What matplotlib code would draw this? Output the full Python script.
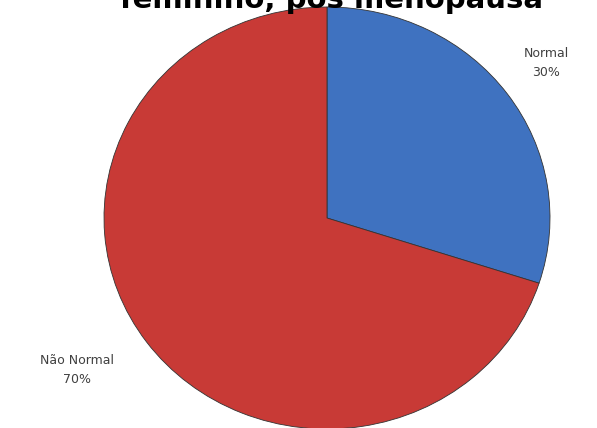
import matplotlib
matplotlib.use("Agg")
import matplotlib.pyplot as plt

labels = ["Normal", "Não Normal"]
values = [30, 70]
pct_labels = ["30%", "70%"]
colors = ["#3F72C0", "#C83A36"]
title = "feminino, pós menopausa"

W, H = 597, 428
fig = plt.figure(figsize=(W / 100, H / 100), dpi=100)
ax = fig.add_axes([0, 0, 1, 1])
ax.set_axis_off()

cx, cy, rx, ry = 327, 218, 223, 211
ax.pie(values, colors=colors, startangle=90, counterclock=False,
       radius=1, center=(0, 0),
       wedgeprops=dict(linewidth=0.6, edgecolor="#333333"))
ax.set_aspect("auto")
ax.set_xlim(-cx / rx, (W - cx) / rx)
ax.set_ylim(-(H - cy) / ry, cy / ry)

def px(x, y):
    return (x - cx) / rx, (cy - y) / ry

tx, ty = px(546, 63)
ax.text(tx, ty, labels[0] + "\n" + pct_labels[0], ha="center", va="center",
        fontsize=9, color="#404040", linespacing=1.6)
tx, ty = px(77, 370)
ax.text(tx, ty, labels[1] + "\n" + pct_labels[1], ha="center", va="center",
        fontsize=9, color="#404040", linespacing=1.6)

fig.text(332 / W, 1 - 8 / H, title, ha="center", va="baseline",
         fontsize=21, fontweight="bold", color="black")

fig.savefig("out.png", dpi=100, facecolor="white")
